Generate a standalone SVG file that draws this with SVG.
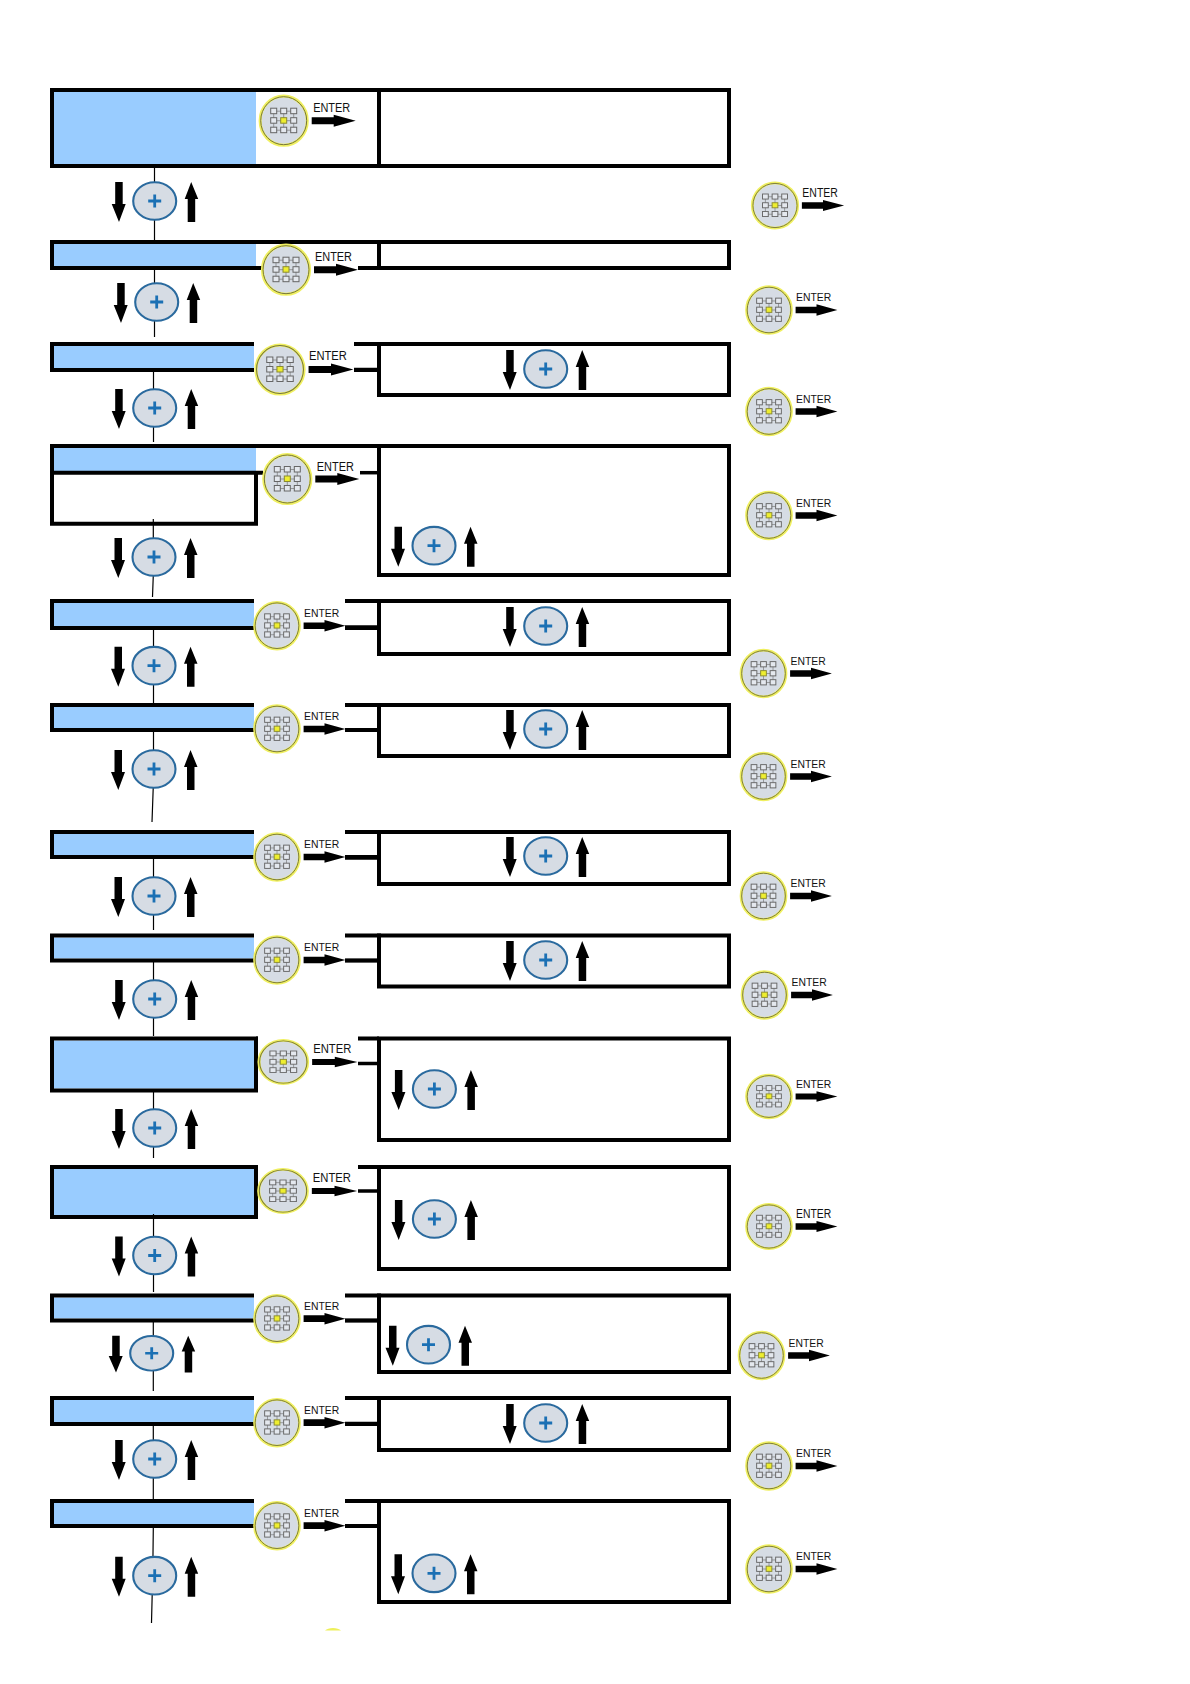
<svg xmlns="http://www.w3.org/2000/svg" width="1190" height="1684" viewBox="0 0 1190 1684">
<style>
.box{fill:none;stroke:#000;stroke-width:4}
.blue{fill:#99ccff}
.patch{fill:#fff}
.stub{stroke:#000;stroke-width:3.5;fill:none}
.wire{stroke:#000;stroke-width:1.2;fill:none}
.en{font-family:"Liberation Sans",Arial,sans-serif;font-size:12px;fill:#111}
.tall{font-size:13.500px}
</style>
<defs>
<g id="pad">
<ellipse rx="23.6" ry="24.6" fill="#d6dce4" stroke="#f0f060" stroke-width="3"/>
<ellipse rx="23" ry="24" fill="none" stroke="#77773a" stroke-width="1"/>
<path d="M-10-9.5H10M-10 0H10M-10 9.5H10M-10-9.5V9.5M0-9.5V9.5M10-9.5V9.5" stroke="#777" stroke-width=".7" fill="none"/>
<g fill="#e4e8ee" stroke="#666" stroke-width="1">
<rect x="-13" y="-12.5" width="6" height="5.5"/><rect x="-3" y="-12.5" width="6" height="5.5"/><rect x="7" y="-12.5" width="6" height="5.5"/>
<rect x="-13" y="-3" width="6" height="5.5"/><rect x="-3" y="-3" width="6" height="5.5" fill="#eeee30" stroke="#8a8a30"/><rect x="7" y="-3" width="6" height="5.5"/>
<rect x="-13" y="6.5" width="6" height="5.5"/><rect x="-3" y="6.5" width="6" height="5.5"/><rect x="7" y="6.5" width="6" height="5.5"/>
</g>
<path d="M28-3.5H50V-6L72 0 50 6V3.5H28Z" fill="#000"/>
</g>
<g id="plus">
<path d="M-39.5-19H-32V3H-29L-35.7 21-43 3H-39.5Z" fill="#000"/>
<path d="M33 21H40.500V-2H43.500L36.500-19 30-2H33Z" fill="#000"/>
<ellipse rx="21.5" ry="18.8" fill="#d6dce4" stroke="#2a6a9e" stroke-width="2.1"/>
<path d="M-6.5 0H6.5M0-6.5V6.5" stroke="#1b70b4" stroke-width="2.8" fill="none"/>
</g>
</defs>
<rect width="1190" height="1684" fill="#fff"/>

<g id="row-1"><rect class="blue" x="54" y="92" width="202" height="72"/><rect class="box" x="52" y="90" width="327" height="76"/><rect class="box" x="379" y="90" width="350" height="76"/></g>
<g id="row-2"><rect class="blue" x="54" y="244" width="202" height="22"/><rect class="box" x="52" y="242" width="327" height="26"/><rect class="box" x="379" y="242" width="350" height="26"/><rect class="patch" x="262" y="264" width="96" height="10"/></g>
<g id="row-3"><rect class="blue" x="54" y="346" width="202" height="22"/><rect class="box" x="52" y="344" width="327" height="26"/><rect class="box" x="379" y="344" width="350" height="51"/><rect class="patch" x="254" y="341" width="100" height="56"/><path class="stub" d="M354 369.5H379"/></g>
<g id="row-4"><rect class="blue" x="54" y="448" width="202" height="23"/><path class="box" d="M50 446H379"/><path class="box" d="M52 446V523.7H256V473M50 472.7H263"/><rect class="box" x="379" y="446" width="350" height="129"/><path class="stub" d="M360 472.7H379"/></g>
<g id="row-5"><rect class="blue" x="54" y="603" width="202" height="23"/><rect class="box" x="52" y="601" width="327" height="27"/><rect class="box" x="379" y="601" width="350" height="53"/><rect class="patch" x="254" y="598" width="91" height="54"/><path class="stub" d="M345 627H379"/></g>
<g id="row-6"><rect class="blue" x="54" y="707" width="202" height="21"/><rect class="box" x="52" y="705" width="327" height="25"/><rect class="box" x="379" y="705" width="350" height="51"/><rect class="patch" x="254" y="702" width="91" height="54"/><path class="stub" style="stroke-width:2.5" d="M345 730H379"/></g>
<g id="row-7"><rect class="blue" x="54" y="834" width="202" height="21"/><rect class="box" x="52" y="832" width="327" height="25"/><rect class="box" x="379" y="832" width="350" height="52"/><rect class="patch" x="254" y="829" width="91" height="54"/><path class="stub" d="M345 858H379"/></g>
<g id="row-8"><rect class="blue" x="54" y="937.5" width="202" height="21"/><rect class="box" x="52" y="935.5" width="327" height="25"/><rect class="box" x="379" y="935.5" width="350" height="51"/><rect class="patch" x="254" y="932.5" width="91" height="54"/><path class="stub" d="M345 960.5H379"/></g>
<g id="row-9"><rect class="blue" x="54" y="1040.5" width="202" height="48"/><rect class="box" x="52" y="1038.5" width="204" height="52"/><path class="box" d="M256 1038.5H379"/><rect class="box" x="379" y="1038.5" width="350" height="101.5"/><rect class="patch" x="258" y="1035.5" width="100" height="54"/><path class="stub" d="M358 1063.5H379"/></g>
<g id="row-10"><rect class="blue" x="54" y="1169" width="202" height="46"/><rect class="box" x="52" y="1167" width="204" height="50"/><path class="box" d="M256 1167H379"/><rect class="box" x="379" y="1167" width="350" height="102"/><rect class="patch" x="258" y="1164" width="100" height="54"/><path class="stub" d="M358 1191H379"/></g>
<g id="row-11"><rect class="blue" x="54" y="1297.5" width="202" height="21"/><rect class="box" x="52" y="1295.5" width="327" height="25"/><rect class="box" x="379" y="1295.5" width="350" height="76.5"/><rect class="patch" x="254" y="1292.5" width="91" height="54"/><path class="stub" d="M345 1320.5H379"/></g>
<g id="row-12"><rect class="blue" x="54" y="1400" width="202" height="22"/><rect class="box" x="52" y="1398" width="327" height="26"/><rect class="box" x="379" y="1398" width="350" height="52"/><rect class="patch" x="254" y="1395" width="91" height="54"/><path class="stub" d="M345 1423.5H379"/></g>
<g id="row-13"><rect class="blue" x="54" y="1503" width="202" height="21"/><rect class="box" x="52" y="1501" width="327" height="25"/><rect class="box" x="379" y="1501" width="350" height="101"/><rect class="patch" x="254" y="1498" width="91" height="54"/><path class="stub" d="M345 1526H379"/></g>

<g id="connectors">
<path class="wire" d="M154.5 168V240"/>
<path class="wire" d="M154.5 270V337"/>
<path class="wire" d="M153.5 372V442"/>
<path class="wire" d="M153.3 519V575L152.5 597"/>
<path class="wire" d="M153.5 630V703"/>
<path class="wire" d="M153.5 732V780L152 822"/>
<path class="wire" d="M153.5 858V930"/>
<path class="wire" d="M153.5 962V1036"/>
<path class="wire" d="M153.5 1091V1158"/>
<path class="wire" d="M153.5 1214V1292"/>
<path class="wire" d="M153.3 1322V1391"/>
<path class="wire" d="M153.3 1426V1499"/>
<path class="wire" d="M153.3 1528 152.8 1570 151.5 1623"/>
</g>

<g id="enter-1" transform="translate(283.7 120.7)"><use href="#pad"/><text class="en" x="29.5" y="-9" textLength="37" lengthAdjust="spacingAndGlyphs">ENTER</text></g>
<g id="enter-2" transform="translate(286 269.7)"><use href="#pad"/><text class="en" x="29" y="-9" textLength="37" lengthAdjust="spacingAndGlyphs">ENTER</text></g>
<g id="enter-3" transform="translate(280 369.5) scale(1.02 1)"><use href="#pad"/><text class="en" x="28.5" y="-9.5" textLength="37" lengthAdjust="spacingAndGlyphs">ENTER</text></g>
<g id="enter-4" transform="translate(287.3 479)"><use href="#pad"/><text class="en" x="29.5" y="-8.5" textLength="37" lengthAdjust="spacingAndGlyphs">ENTER</text></g>
<g id="enter-5" transform="translate(277 625.7) scale(.95)"><use href="#pad"/><text class="en" x="28.5" y="-9" textLength="37" lengthAdjust="spacingAndGlyphs">ENTER</text></g>
<g id="enter-6" transform="translate(277 729) scale(.95)"><use href="#pad"/><text class="en" x="28.5" y="-9" textLength="37" lengthAdjust="spacingAndGlyphs">ENTER</text></g>
<g id="enter-7" transform="translate(277 857) scale(.95)"><use href="#pad"/><text class="en" x="28.5" y="-9" textLength="37" lengthAdjust="spacingAndGlyphs">ENTER</text></g>
<g id="enter-8" transform="translate(277 960) scale(.95)"><use href="#pad"/><text class="en" x="28.5" y="-9" textLength="37" lengthAdjust="spacingAndGlyphs">ENTER</text></g>
<g id="enter-9" transform="translate(283.3 1062) scale(1.03 .88)"><use href="#pad"/><text class="en tall" x="29" y="-10" textLength="37" lengthAdjust="spacingAndGlyphs">ENTER</text></g>
<g id="enter-10" transform="translate(283 1191) scale(1.03 .88)"><use href="#pad"/><text class="en tall" x="29" y="-10" textLength="37" lengthAdjust="spacingAndGlyphs">ENTER</text></g>
<g id="enter-11" transform="translate(277 1318.7) scale(.95)"><use href="#pad"/><text class="en" x="28.5" y="-9" textLength="37" lengthAdjust="spacingAndGlyphs">ENTER</text></g>
<g id="enter-12" transform="translate(277 1422.7) scale(.95)"><use href="#pad"/><text class="en" x="28.5" y="-9" textLength="37" lengthAdjust="spacingAndGlyphs">ENTER</text></g>
<g id="enter-13" transform="translate(277 1525.7) scale(.95)"><use href="#pad"/><text class="en" x="28.5" y="-9" textLength="37" lengthAdjust="spacingAndGlyphs">ENTER</text></g>

<g id="side-enter-1" transform="translate(775 205.5) scale(.96 .92)"><use href="#pad"/><text class="en tall" x="28.5" y="-9.5" textLength="37" lengthAdjust="spacingAndGlyphs">ENTER</text></g>
<g id="side-enter-2" transform="translate(769 310) scale(.95)"><use href="#pad"/><text class="en" x="28.5" y="-9" textLength="37" lengthAdjust="spacingAndGlyphs">ENTER</text></g>
<g id="side-enter-3" transform="translate(769 411.5) scale(.95)"><use href="#pad"/><text class="en" x="28.5" y="-9" textLength="37" lengthAdjust="spacingAndGlyphs">ENTER</text></g>
<g id="side-enter-4" transform="translate(769 515.5) scale(.95)"><use href="#pad"/><text class="en" x="28.5" y="-9" textLength="37" lengthAdjust="spacingAndGlyphs">ENTER</text></g>
<g id="side-enter-5" transform="translate(763.5 673.5) scale(.95)"><use href="#pad"/><text class="en" x="28.5" y="-9" textLength="37" lengthAdjust="spacingAndGlyphs">ENTER</text></g>
<g id="side-enter-6" transform="translate(763.5 776.5) scale(.95)"><use href="#pad"/><text class="en" x="28.5" y="-9" textLength="37" lengthAdjust="spacingAndGlyphs">ENTER</text></g>
<g id="side-enter-7" transform="translate(763.5 896) scale(.95)"><use href="#pad"/><text class="en" x="28.5" y="-9" textLength="37" lengthAdjust="spacingAndGlyphs">ENTER</text></g>
<g id="side-enter-8" transform="translate(764.5 995) scale(.95)"><use href="#pad"/><text class="en" x="28.5" y="-9" textLength="37" lengthAdjust="spacingAndGlyphs">ENTER</text></g>
<g id="side-enter-9" transform="translate(769 1096.5) scale(.95 .87)"><use href="#pad"/><text class="en tall" x="28.5" y="-10" textLength="37" lengthAdjust="spacingAndGlyphs">ENTER</text></g>
<g id="side-enter-10" transform="translate(769 1226.5) scale(.95 .9)"><use href="#pad"/><text class="en tall" x="28.5" y="-10" textLength="37" lengthAdjust="spacingAndGlyphs">ENTER</text></g>
<g id="side-enter-11" transform="translate(761.5 1355.5) scale(.95)"><use href="#pad"/><text class="en" x="28.5" y="-9" textLength="37" lengthAdjust="spacingAndGlyphs">ENTER</text></g>
<g id="side-enter-12" transform="translate(769 1466) scale(.95)"><use href="#pad"/><text class="en" x="28.5" y="-9" textLength="37" lengthAdjust="spacingAndGlyphs">ENTER</text></g>
<g id="side-enter-13" transform="translate(769 1569) scale(.95)"><use href="#pad"/><text class="en" x="28.5" y="-9" textLength="37" lengthAdjust="spacingAndGlyphs">ENTER</text></g>

<g id="plus-buttons">
<use href="#plus" x="154.7" y="201"/>
<use href="#plus" x="156.7" y="302"/>
<use href="#plus" x="154.7" y="408"/>
<use href="#plus" x="154" y="557"/>
<use href="#plus" x="154" y="665.7"/>
<use href="#plus" x="154" y="769"/>
<use href="#plus" x="154" y="896"/>
<use href="#plus" x="154.7" y="999"/>
<use href="#plus" x="154.7" y="1128"/>
<use href="#plus" x="154.7" y="1255.5"/>
<use href="#plus" transform="translate(151.7 1353.3) scale(1 .92)"/>
<use href="#plus" x="154.7" y="1459"/>
<use href="#plus" x="154.7" y="1575.7"/>
<use href="#plus" x="545.7" y="369"/>
<use href="#plus" x="434" y="545.7"/>
<use href="#plus" x="545.7" y="626"/>
<use href="#plus" x="545.7" y="729"/>
<use href="#plus" x="545.7" y="856"/>
<use href="#plus" x="545.7" y="960"/>
<use href="#plus" x="434.4" y="1089"/>
<use href="#plus" x="434.4" y="1219"/>
<use href="#plus" x="428.5" y="1344.7"/>
<use href="#plus" x="545.7" y="1423"/>
<use href="#plus" x="434" y="1573.3"/>
</g>
<path id="stray-arc" d="M325 1630.5C328 1627 338 1627 341 1630.5Z" fill="#eef05a"/>
</svg>
